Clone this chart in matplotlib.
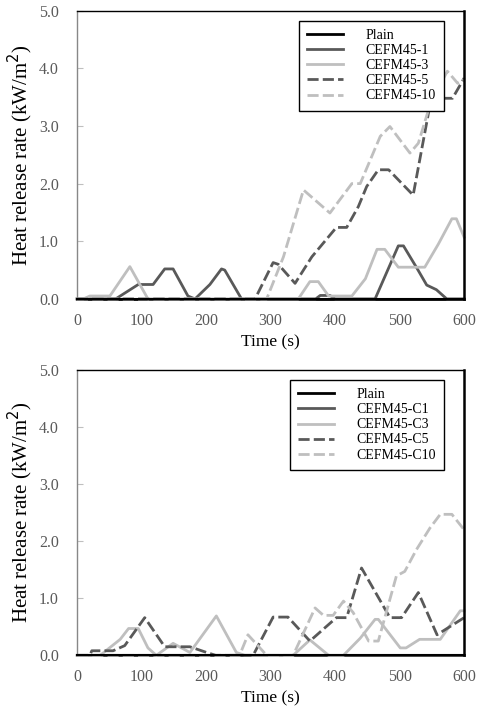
import numpy as np
from matplotlib import pyplot as plt

plt.rcParams['font.family'] = ['Liberation Serif', 'DejaVu Serif']

# top panel (CEFM45-x), time in s, HRR in kW/m2
plain_t = [0, 600]
plain_v = [0, 0]

cefm1_t = [0, 60, 95, 118, 136, 149, 172, 183, 206, 224, 229, 255, 370, 377, 392, 400,
           462, 498, 506, 527, 542, 557, 573, 600]
cefm1_v = [0, 0, 0.25, 0.25, 0.52, 0.52, 0.05, 0, 0.25, 0.52, 0.50, 0, 0, 0.06, 0.06, 0,
           0, 0.92, 0.92, 0.53, 0.24, 0.16, 0, 0]

cefm3_t = [0, 10, 20, 51, 82, 110, 343, 361, 374, 390, 426, 447, 465, 477, 498, 539, 560, 581, 588, 600]
cefm3_v = [0, 0, 0.05, 0.05, 0.56, 0, 0, 0.30, 0.30, 0.05, 0.05, 0.35, 0.86, 0.86, 0.55, 0.55,
           0.95, 1.39, 1.39, 1.07]

cefm5_t = [0, 276, 304, 312, 338, 364, 402, 418, 436, 449, 467, 483, 521, 549, 582, 600]
cefm5_v = [0, 0, 0.63, 0.60, 0.27, 0.73, 1.24, 1.24, 1.60, 1.95, 2.24, 2.24, 1.80, 3.48, 3.48, 3.83]

cefm10_t = [0, 294, 320, 351, 392, 426, 439, 470, 485, 516, 529, 548, 574, 590, 600]
cefm10_v = [0, 0, 0.73, 1.89, 1.49, 2.0, 2.0, 2.82, 2.99, 2.53, 2.70, 3.40, 3.95, 3.74, 3.80]

# bottom panel (CEFM45-Cx)
c1_t = [0, 600]
c1_v = [0, 0]

c3_t = [0, 36, 67, 80, 95, 110, 123, 149, 175, 216, 247, 260, 335, 361, 390, 413, 439, 462, 467,
        501, 510, 531, 563, 594, 600]
c3_v = [0, 0, 0.28, 0.47, 0.47, 0.13, 0, 0.21, 0.05, 0.69, 0.05, 0, 0, 0.27, 0, 0, 0.30, 0.63, 0.63,
        0.13, 0.13, 0.28, 0.28, 0.78, 0.78]

c5_t = [0, 20, 23, 56, 74, 105, 136, 175, 201, 215, 273, 304, 327, 361, 402, 418, 441, 485, 503,
        529, 558, 600]
c5_v = [0, 0, 0.08, 0.08, 0.17, 0.66, 0.15, 0.15, 0.05, 0, 0, 0.67, 0.67, 0.25, 0.66, 0.66, 1.53,
        0.66, 0.66, 1.10, 0.36, 0.66]

c10_t = [0, 252, 265, 294, 335, 369, 382, 397, 413, 428, 452, 467, 495, 508, 526, 547, 563, 581, 600]
c10_v = [0, 0, 0.36, 0, 0, 0.83, 0.70, 0.70, 0.95, 0.75, 0.25, 0.25, 1.39, 1.47, 1.85, 2.23, 2.47,
         2.47, 2.20]

top_labels = ['Plain', 'CEFM45-1', 'CEFM45-3', 'CEFM45-5', 'CEFM45-10']
bot_labels = ['Plain', 'CEFM45-C1', 'CEFM45-C3', 'CEFM45-C5', 'CEFM45-C10']

dark = '#595959'
light = '#bfbfbf'
styles = [('black', '-'), (dark, '-'), (light, '-'), (dark, (0, (4, 1.5))), (light, (0, (4, 1.5)))]

fig = plt.figure(figsize=(4.78, 7.10), dpi=100)
ax1 = fig.add_axes([0.161, 0.579, 0.810, 0.406])
ax2 = fig.add_axes([0.161, 0.077, 0.810, 0.402])

top_data = [(plain_t, plain_v), (cefm1_t, cefm1_v), (cefm3_t, cefm3_v), (cefm5_t, cefm5_v), (cefm10_t, cefm10_v)]
bot_data = [(plain_t, plain_v), (c1_t, c1_v), (c3_t, c3_v), (c5_t, c5_v), (c10_t, c10_v)]

for ax, data, labels in [(ax1, top_data, top_labels), (ax2, bot_data, bot_labels)]:
    for (t, v), lab, (col, ls) in zip(data, labels, styles):
        ax.plot(t, v, color=col, linestyle=ls, lw=2, label=lab, clip_on=False)
    ax.set_xlim(0, 600)
    ax.set_ylim(0, 5)
    ax.set_xticks(np.arange(0, 601, 100))
    ax.set_yticks(np.arange(0, 5.1, 1))
    ax.set_yticklabels(['%.1f' % y for y in np.arange(0, 5.1, 1)])
    ax.tick_params(axis='y', direction='in', length=4, color='#bfbfbf', labelcolor='#595959',
                   labelsize=11.5, pad=13)
    ax.tick_params(axis='x', length=0, labelcolor='#595959', labelsize=11.5, pad=10)
    ax.spines['left'].set_color('#888888')
    ax.spines['left'].set_linewidth(1)
    ax.spines['top'].set_linewidth(1)
    ax.spines['right'].set_linewidth(1.8)
    ax.spines['bottom'].set_linewidth(1.5)
    ax.set_xlabel('Time (s)', fontsize=12.5, labelpad=4)
    ax.set_ylabel('Heat release rate (kW/m$^{2}$)', fontsize=15, labelpad=3)
    leg = ax.legend(loc='upper right', bbox_to_anchor=(0.948, 0.965), fontsize=10,
                    fancybox=False, framealpha=1, edgecolor='black', handlelength=2.6,
                    handletextpad=1.6, labelspacing=0.15, borderpad=0.6, borderaxespad=0)
    leg.get_frame().set_linewidth(1)

fig.savefig('out.png', dpi=100)
